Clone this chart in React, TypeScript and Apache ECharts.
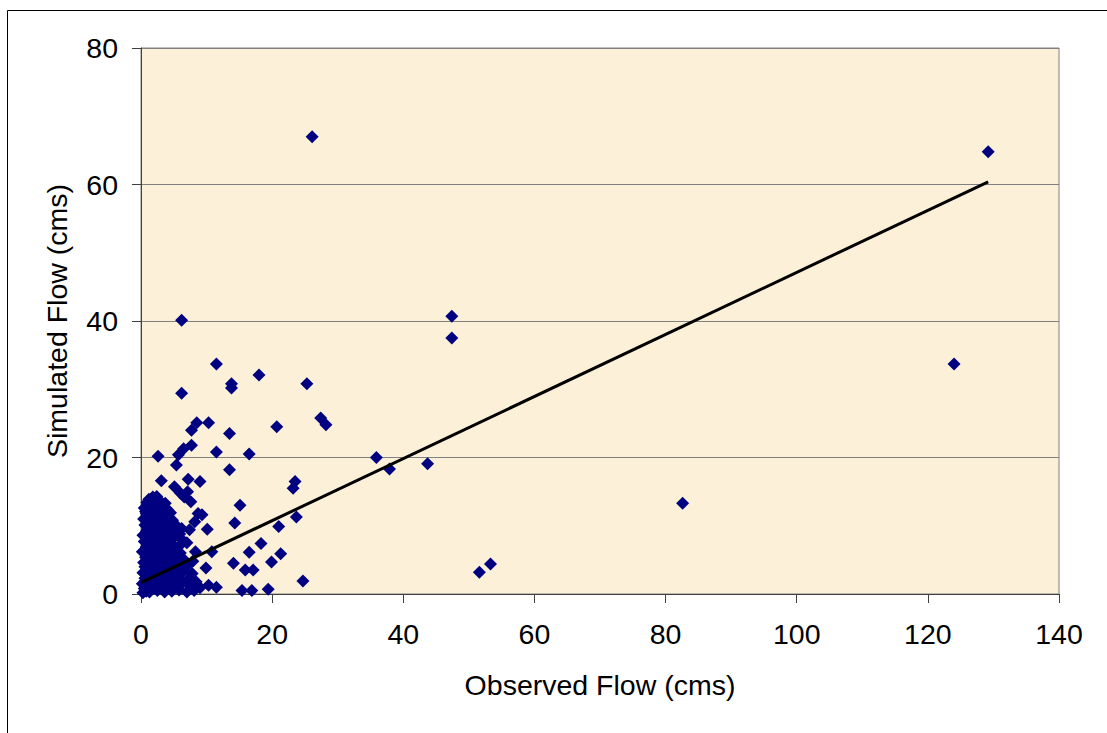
import React, { useEffect, useRef } from "react";
import * as echarts from "echarts";

// Observed vs simulated flow (cms)
const observedFlow: number[] = [
  26.1, 129.2, 124.0, 82.6, 47.4, 47.4, 35.9, 37.9, 43.7, 51.6, 53.3,
  6.2, 11.5, 18.0, 13.8, 13.8, 25.3, 6.2, 27.4, 28.2, 8.5, 10.3, 7.7, 20.7, 13.5, 7.7, 6.5, 2.6, 5.7, 11.5, 16.5, 5.4, 13.5,
  3.1, 7.2, 9.0, 5.1, 23.5, 23.2, 7.6, 15.1, 8.7, 9.3, 8.2, 14.3, 23.7, 10.1, 21.0, 18.3, 16.5, 21.3, 19.9, 14.1, 10.8, 9.9,
  15.9, 17.1, 24.7, 15.4, 16.9, 19.4, 11.5, 10.3, 8.7,
  0.3, 0.5, 0.2, 0.8, 0.6, 0.3, 0.9, 0.4, 0.7, 0.2, 0.8, 0.5, 0.3, 0.9, 0.6, 0.4, 0.8, 0.5, 0.9, 1.2,
  1.3, 1.6, 1.2, 1.9, 1.4, 2.1, 1.5, 1.8, 1.3, 2.0, 1.6, 1.2, 1.9, 1.5, 2.2, 1.7, 1.4, 2.0, 1.8,
  2.5, 2.8, 2.4, 3.1, 2.6, 3.2, 2.7, 3.0, 2.4, 3.3, 2.8, 2.5, 3.1, 2.7, 3.2, 2.6, 3.0, 2.4,
  3.6, 3.9, 3.5, 4.2, 3.8, 4.3, 3.7, 4.1, 3.5, 4.0, 3.6, 4.2, 3.8, 3.5, 4.0, 3.7,
  4.7, 5.0, 4.6, 5.3, 4.8, 5.4, 4.9, 5.2, 4.6, 5.1, 4.7, 5.3, 4.8,
  5.8, 6.2, 5.7, 6.4, 5.9, 6.5, 6.0, 5.8, 6.3, 5.9, 6.2,
  6.0, 6.6, 7.1, 7.0, 7.5, 8.1, 7.2, 8.4, 7.8, 9.0, 6.9, 7.4, 7.0, 8.3, 7.9,
  1.0, 2.3, 3.4, 1.1, 2.9, 4.4, 0.6, 2.2, 3.9, 1.0, 2.0, 3.3, 0.7, 1.7, 2.9, 4.5
];
const simulatedFlow: number[] = [
  67.0, 64.8, 33.7, 13.3, 40.7, 37.5, 20.0, 18.3, 19.1, 3.2, 4.4,
  40.1, 33.7, 32.1, 30.8, 30.2, 30.8, 29.4, 25.8, 24.8, 25.1, 25.1, 24.0, 24.5, 23.5, 21.8, 21.3, 20.2, 20.4, 20.8, 20.5, 18.9, 18.2,
  16.6, 16.8, 16.5, 15.7, 16.5, 15.5, 13.5, 13.0, 11.8, 11.6, 10.6, 10.4, 11.3, 9.5, 9.9, 7.4, 6.1, 5.9, 4.7, 4.5, 6.2, 3.8,
  3.5, 3.5, 1.9, 0.5, 0.5, 0.7, 1.0, 1.3, 1.2,
  0.2, 0.8, 1.5, 0.4, 2.3, 3.1, 3.8, 4.6, 5.4, 6.2, 6.9, 7.7, 8.6, 9.3, 10.1, 11.0, 11.8, 12.6, 13.4, 13.9,
  0.3, 1.1, 2.0, 2.7, 3.5, 4.2, 5.1, 5.9, 6.6, 7.4, 8.2, 9.0, 9.8, 10.7, 11.4, 12.3, 13.1, 13.6, 14.2,
  0.5, 1.4, 2.2, 3.0, 3.9, 4.8, 5.6, 6.4, 7.1, 8.0, 8.8, 9.6, 10.4, 11.2, 12.0, 12.8, 13.5, 14.3,
  0.3, 1.2, 2.1, 2.9, 3.7, 4.6, 5.5, 6.3, 7.2, 8.1, 9.0, 9.8, 10.7, 11.6, 12.4, 13.3,
  0.4, 1.3, 2.2, 3.1, 4.0, 4.9, 5.8, 6.7, 7.5, 8.4, 9.2, 10.1, 10.8,
  0.6, 1.5, 2.4, 3.3, 4.2, 5.1, 6.0, 7.0, 7.9, 8.8, 9.6,
  14.8, 14.2, 15.0, 0.3, 1.1, 0.5, 2.2, 1.8, 3.0, 0.9, 4.0, 9.4, 7.5, 6.2, 4.8,
  12.0, 10.2, 8.5, 7.0, 5.3, 3.3, 4.0, 2.6, 1.6, 10.5, 8.6, 6.7, 12.1, 0.8, 11.9, 11.9
];

// Linear trend line endpoints
const trendX: number[] = [0.1, 129.2];
const trendY: number[] = [1.7, 60.4];

const xTicks = { min: 0, max: 140, interval: 20 };
const yTicks = { min: 0, max: 80, interval: 20 };

const FONT = "'Liberation Sans', Arial, sans-serif";

export default function App() {
  const ref = useRef<HTMLDivElement>(null);
  useEffect(() => {
    if (!ref.current) return;
    const chart = echarts.init(ref.current, null, { renderer: "svg" });
    const points = observedFlow.map((x, i) => [x, simulatedFlow[i]]);
    const trend = trendX.map((x, i) => [x, trendY[i]]);
    chart.setOption({
      animation: false,
      backgroundColor: "#ffffff",
      textStyle: { fontFamily: FONT },
      graphic: [
        {
          type: "rect",
          shape: { x: 7.5, y: 10.5, width: 1200, height: 800 },
          style: { fill: "none", stroke: "#000", lineWidth: 1 },
          silent: true,
          z: -1,
        },
      ],
      grid: {
        left: 141,
        top: 48,
        right: 48,
        bottom: 139,
        show: true,
        backgroundColor: "#FCF1D8",
        borderColor: "#808080",
        borderWidth: 1,
      },
      xAxis: {
        type: "value",
        min: xTicks.min,
        max: xTicks.max,
        interval: xTicks.interval,
        name: "Observed Flow (cms)",
        nameLocation: "middle",
        nameGap: 76,
        nameTextStyle: { fontSize: 28.5, color: "#000", fontFamily: FONT },
        axisLine: { show: true, onZero: false, lineStyle: { color: "#404040", width: 1 } },
        axisTick: { show: true, inside: false, length: 9, lineStyle: { color: "#404040" } },
        axisLabel: { fontSize: 28.5, color: "#000", margin: 25, fontFamily: FONT },
        splitLine: { show: false },
      },
      yAxis: {
        type: "value",
        min: yTicks.min,
        max: yTicks.max,
        interval: yTicks.interval,
        name: "Simulated Flow (cms)",
        nameLocation: "middle",
        nameGap: 70,
        nameRotate: 90,
        nameTextStyle: { fontSize: 28.5, color: "#000", fontFamily: FONT },
        axisLine: { show: true, onZero: false, lineStyle: { color: "#404040", width: 1 } },
        axisTick: { show: true, inside: false, length: 9, lineStyle: { color: "#404040" } },
        axisLabel: { fontSize: 28.5, color: "#000", margin: 23, fontFamily: FONT },
        splitLine: { show: true, lineStyle: { color: "#808080", width: 1 } },
      },
      series: [
        {
          type: "scatter",
          name: "Simulated",
          data: points,
          symbol: "diamond",
          symbolSize: 13,
          itemStyle: { color: "#000080", opacity: 1 },
          z: 2,
        },
        {
          type: "line",
          name: "Trend",
          data: trend,
          showSymbol: false,
          symbol: "none",
          lineStyle: { color: "#000", width: 3 },
          z: 3,
        },
      ],
    });
    return () => chart.dispose();
  }, []);
  return (
    <div
      ref={ref}
      style={{ position: "absolute", left: 0, top: 0, width: 1107, height: 733 }}
    />
  );
}
